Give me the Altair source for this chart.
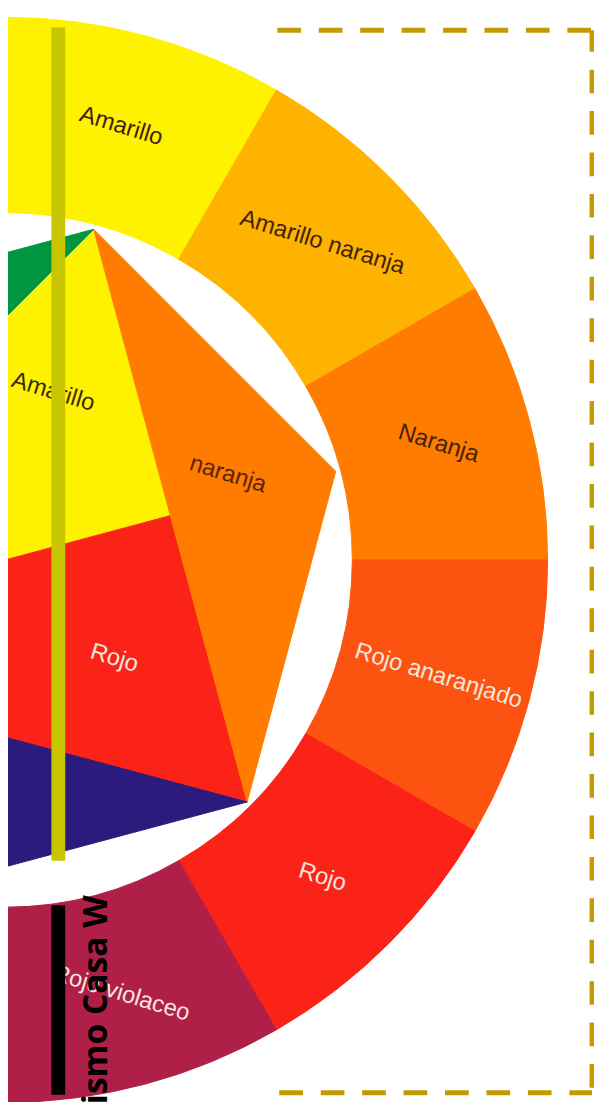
import math
import altair as alt
import pandas as pd

# ---------------- data ----------------
# Outer ring: 12 hues, clockwise starting at the top
ring_names = ["Amarillo", "Amarillo naranja", "Naranja", "Rojo anaranjado", "Rojo",
              "Rojo violaceo", "Violeta", "Azul violeta", "Azul", "Verde azul",
              "Verde", "Amarillo verde"]
# labels printed on the visible half of the wheel
ring_labels = ["Amarillo", "Amarillo naranja", "Naranja", "Rojo anaranjado", "Rojo",
               "Rojo violaceo", "", "", "", "", "", ""]
ring_share = [1, 1, 1, 1, 1, 1, 1, 1, 1, 1, 1, 1]
ring_colors = ["#FFF200", "#FDB300", "#FF7C00", "#FD5311", "#FB2318", "#AF1F48",
               "#6A2C8E", "#3A2F8F", "#1E5BAA", "#009A93", "#00A651", "#BED600"]
ring_label_colors = ["#43220A", "#43220A", "#43220A", "#F6E6DE", "#F6E6DE", "#F6E6DE",
                     "#F6E6DE", "#F6E6DE", "#F6E6DE", "#F6E6DE", "#F6E6DE", "#43220A"]

# Inner hexagram: primaries in the central triangle, secondaries around it
inner_names = ["Amarillo", "Rojo", "Azul", "naranja", "Violeta", "Verde"]
inner_colors = ["#FFF200", "#FB2318", "#1C4FA0", "#FF7C00", "#2B1B7D", "#009640"]
inner_labels = ["Amarillo", "naranja", "Rojo"]
inner_label_colors = ["#3A2A10", "#5A2306", "#F6E6DE"]

side_text = ["ismo Casa W"]

# ---------------- layout (pixels) ----------------
W, H = 594, 1094
CX, CY = -3, 552          # centre of the wheel
R_OUT, R_IN = 550, 352    # ring radii
R_HEX = 347               # hexagram vertex radius
R_LABEL = 455
LABEL_ANGLE = 17
FS = 24

# vertex directions (math degrees, counter-clockwise from east)
vert_dir = {"Y": 75, "O": 15, "R": -45, "V": -105, "B": 195, "G": 135}
# label placement inside the hexagram (direction, distance)
inner_label_pos = {"Amarillo": (74, 177), "naranja": (21, 242), "Rojo": (-42, 149)}


def pt(deg, r):
    a = math.radians(deg)
    return [CX + r * math.cos(a), CY - r * math.sin(a)]


def mid(p, q):
    return [(p[0] + q[0]) / 2, (p[1] + q[1]) / 2]


V = {k: pt(a, R_HEX) for k, a in vert_dir.items()}
C = [CX, CY]
shapes = {
    "Verde": [V["Y"], V["G"], V["B"]],
    "naranja": [V["Y"], V["O"], V["R"]],
    "Violeta": [V["R"], V["V"], V["B"]],
    "Amarillo": [V["Y"], mid(V["Y"], V["R"]), C, mid(V["Y"], V["B"])],
    "Rojo": [V["R"], mid(V["Y"], V["R"]), C, mid(V["R"], V["B"])],
    "Azul": [V["B"], mid(V["R"], V["B"]), C, mid(V["Y"], V["B"])],
}
features = []
for name in inner_names:
    ring = shapes[name] + [shapes[name][0]]
    features.append({"type": "Feature", "properties": {"name": name},
                     "geometry": {"type": "Polygon", "coordinates": [ring]}})

# ---------------- chart ----------------
ring_df = pd.DataFrame({"name": ring_names, "label": ring_labels, "share": ring_share,
                        "idx": list(range(len(ring_names))), "tc": ring_label_colors})

base = alt.Chart(ring_df).encode(
    theta=alt.Theta("share:Q", stack=True),
    order=alt.Order("idx:Q"),
    x=alt.value(CX),
    y=alt.value(CY),
)
ring_scale = alt.Scale(domain=ring_names, range=ring_colors)
arcs = base.mark_arc(radius=R_OUT, radius2=R_IN, strokeWidth=1).encode(
    color=alt.Color("name:N", scale=ring_scale, legend=None),
    stroke=alt.Stroke("name:N", scale=ring_scale, legend=None),
)
ring_text = base.transform_filter(alt.datum.label != "").mark_text(
    radius=R_LABEL, angle=LABEL_ANGLE, font="Liberation Sans",
    fontSize=FS, align="center", baseline="middle").encode(
    text="label:N",
    color=alt.Color("tc:N", scale=None),
)

inner_scale = alt.Scale(domain=inner_names, range=inner_colors)
hexa = alt.Chart(alt.Data(values=features)).mark_geoshape(strokeWidth=1).encode(
    color=alt.Color("properties.name:N", scale=inner_scale, legend=None),
    stroke=alt.Stroke("properties.name:N", scale=inner_scale, legend=None),
).project(type="identity", scale=1, translate=[0, 0])

il_df = pd.DataFrame({
    "name": inner_labels,
    "px": [pt(*inner_label_pos[n])[0] for n in inner_labels],
    "py": [pt(*inner_label_pos[n])[1] for n in inner_labels],
    "tc": inner_label_colors,
})
inner_text = alt.Chart(il_df).mark_text(angle=LABEL_ANGLE, font="Liberation Sans", fontSize=FS,
                                         align="center", baseline="middle").encode(
    x=alt.X("px:Q", scale=None, axis=None),
    y=alt.Y("py:Q", scale=None, axis=None),
    text="name:N",
    color=alt.Color("tc:N", scale=None),
)

olive_bar = alt.Chart().mark_rule(color="#C8C600", strokeWidth=14).encode(
    x=alt.value(51), y=alt.value(12), y2=alt.value(857))
black_bar = alt.Chart().mark_rule(color="#000000", strokeWidth=14).encode(
    x=alt.value(51), y=alt.value(902), y2=alt.value(H))

side = alt.Chart(pd.DataFrame({"t": side_text})).mark_text(
    angle=270, align="right", baseline="alphabetic", font="Open Sans",
    fontWeight="bold", fontSize=34, color="#000000").encode(
    text="t:N", x=alt.value(100), y=alt.value(892))

frame_style = dict(color="#C39A00", strokeWidth=5, strokeDash=[24, 18])
frame_top = alt.Chart().mark_rule(strokeDashOffset=0, **frame_style).encode(
    x=alt.value(273), x2=alt.value(592), y=alt.value(15))
frame_right = alt.Chart().mark_rule(strokeDashOffset=2, **frame_style).encode(
    x=alt.value(592), y=alt.value(15), y2=alt.value(1092))
frame_bottom = alt.Chart().mark_rule(strokeDashOffset=0, **frame_style).encode(
    x=alt.value(275), x2=alt.value(592), y=alt.value(1092))

chart = alt.layer(
    arcs, ring_text, hexa, inner_text, olive_bar, black_bar, side,
    frame_top, frame_right, frame_bottom,
).resolve_scale(
    color="independent", stroke="independent"
).properties(
    width=W, height=H, padding=0, background="#FFFFFF",
    autosize=alt.AutoSizeParams(type="none"),
).configure_view(stroke=None)

chart.save("out.html", embed_options={"renderer": "svg", "actions": False})
